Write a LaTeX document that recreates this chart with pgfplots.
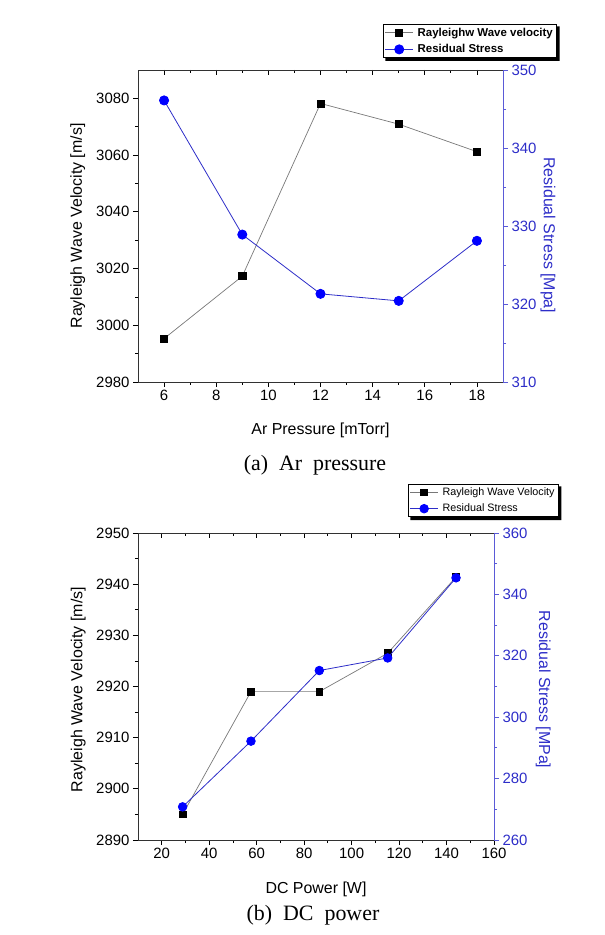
\documentclass[border=0pt]{standalone}
\usepackage{pgfplots}
\pgfplotsset{compat=1.18}
\usepackage{fontspec}
\setmainfont{Liberation Sans}
\newfontfamily\capfont{Liberation Serif}

\definecolor{rblue}{RGB}{45,45,200}
\definecolor{mblue}{RGB}{0,0,255}
\definecolor{lgray}{RGB}{120,120,120}
\definecolor{axblue}{RGB}{90,90,215}
\definecolor{axblack}{RGB}{50,50,50}

\pgfplotsset{
  base/.style={scale only axis,
    /pgf/number format/assume math mode=true,
    /pgf/number format/set thousands separator={},
    tick label style={font=\fontsize{15}{15}\selectfont},
    label style={font=\fontsize{16}{16}\selectfont},
    major tick length=5bp, minor tick length=3bp,
    axis line style={line width=0.9bp},
    every tick/.style={line width=0.8bp},
    tick align=outside,
  },
  lgimg/.style={legend image code/.code={%
    \draw[mark repeat=2,mark phase=2] plot coordinates {(0bp,0bp) (14bp,0bp) (28bp,0bp)};}},
  sq/.style={lgray, line width=0.7bp, mark=square*, mark size=3.6bp, mark options={black, solid}},
  ci/.style={rblue, line width=0.8bp, mark=*, mark size=4.6bp, mark options={mblue, solid}},
}

\begin{document}
\begin{tikzpicture}
\useasboundingbox (0,0) rectangle (605bp,935bp);

% ---------------- (a) ----------------
\begin{axis}[base, at={(138bp,553bp)}, anchor=south west, width=365bp, height=312bp,
  xmin=5, xmax=19, ymin=2980, ymax=3090,
  xtick={6,8,...,18}, minor x tick num=1,
  ytick={2980,3000,...,3080}, minor y tick num=1,
  xtick pos=bottom, ytick pos=left,
  axis line style={axblack},
  xlabel={Ar Pressure [mTorr]}, ylabel={Rayleigh Wave Velocity [m/s]},
  xlabel style={at={(axis description cs:0.5,-0.154)}, anchor=center},
  ylabel style={at={(axis description cs:-0.165,0.5)}, anchor=center},
]
\addplot[sq] coordinates {(6,2995.3) (9,3017.3) (12,3078.2) (15,3070.9) (18,3061.2)};
\end{axis}
\begin{axis}[base, at={(138bp,553bp)}, anchor=south west, width=365bp, height=312bp,
  xmin=5, xmax=19, ymin=0, ymax=1,
  axis x line*=top, axis y line=none, tick align=inside,
  xtick={6,8,...,18}, minor x tick num=1, xticklabels={},
  axis line style={axblack},
]
\end{axis}
\begin{axis}[base, at={(138bp,553bp)}, anchor=south west, width=365bp, height=312bp,
  xmin=5, xmax=19, ymin=310, ymax=350,
  axis y line*=right, axis x line=none,
  ytick={310,320,...,350}, minor y tick num=1,
  y axis line style={axblue}, ytick style={axblue},
  yticklabel style={rblue},
  ylabel={Residual Stress [Mpa]},
  ylabel style={rblue, at={(axis description cs:1.123,0.47)}, anchor=center, rotate=180},
  legend style={at={(0.671,1.148)}, anchor=north west, name=legA,
    font=\bfseries\fontsize{11.5}{13}\selectfont, draw=black, line width=0.8bp,
    inner sep=1.5bp, row sep=3bp, cells={anchor=west}, fill=white,
    /tikz/every odd column/.append style={column sep=2bp}},
  lgimg,
]
\addlegendimage{sq}
\addplot[ci] coordinates {(6,346.1) (9,328.9) (12,321.3) (15,320.4) (18,328.1)};
\legend{Rayleighw Wave velocity, Residual Stress}
\end{axis}
\fill[black] ([yshift=-2.5bp]legA.north east) -- ([xshift=2.8bp,yshift=-2.5bp]legA.north east)
  -- ([xshift=2.8bp,yshift=-2.8bp]legA.south east) -- ([xshift=2.5bp,yshift=-2.8bp]legA.south west)
  -- ([xshift=2.5bp]legA.south west) -- (legA.south east) -- cycle;

% ---------------- (b) ----------------
\begin{axis}[base, at={(138bp,95bp)}, anchor=south west, width=356bp, height=307bp,
  xmin=10, xmax=160, ymin=2890, ymax=2950,
  xtick={20,40,...,160}, minor x tick num=1,
  ytick={2890,2900,...,2950}, minor y tick num=1,
  xtick pos=bottom, ytick pos=left,
  axis line style={axblack},
  xlabel={DC Power [W]}, ylabel={Rayleigh Wave Velocity [m/s]},
  xlabel style={at={(axis description cs:0.5,-0.16)}, anchor=center},
  ylabel style={at={(axis description cs:-0.168,0.49)}, anchor=center},
]
\addplot[sq, mark size=3.4bp] coordinates {(28.8,2895.0) (57.6,2919.0) (86.4,2919.0) (115.2,2926.5) (144,2941.4)};
\end{axis}
\begin{axis}[base, at={(138bp,95bp)}, anchor=south west, width=356bp, height=307bp,
  xmin=10, xmax=160, ymin=0, ymax=1,
  axis x line*=top, axis y line=none, tick align=inside,
  xtick={20,40,...,160}, minor x tick num=1, xticklabels={},
  axis line style={axblack},
]
\end{axis}
\begin{axis}[base, at={(138bp,95bp)}, anchor=south west, width=356bp, height=307bp,
  xmin=10, xmax=160, ymin=260, ymax=360,
  axis y line*=right, axis x line=none,
  ytick={260,280,...,360}, minor y tick num=1,
  y axis line style={axblue}, ytick style={axblue},
  yticklabel style={rblue},
  ylabel={Residual Stress [MPa]},
  ylabel style={rblue, at={(axis description cs:1.138,0.49)}, anchor=center, rotate=180},
  legend style={at={(0.758,1.16)}, anchor=north west, name=legB,
    font=\fontsize{10.8}{12.5}\selectfont, draw=black, line width=0.8bp,
    inner sep=1.5bp, row sep=3bp, cells={anchor=west}, fill=white,
    /tikz/every odd column/.append style={column sep=2bp}},
  lgimg,
]
\addlegendimage{sq, mark size=3.4bp}
\addplot[ci, mark size=4.3bp] coordinates {(28.8,270.8) (57.6,292.2) (86.4,315.2) (115.2,319.3) (144,345.4)};
\legend{Rayleigh Wave Velocity, Residual Stress}
\end{axis}
\fill[black] ([yshift=-2.5bp]legB.north east) -- ([xshift=2.8bp,yshift=-2.5bp]legB.north east)
  -- ([xshift=2.8bp,yshift=-2.8bp]legB.south east) -- ([xshift=2.5bp,yshift=-2.8bp]legB.south west)
  -- ([xshift=2.5bp]legB.south west) -- (legB.south east) -- cycle;

\node[font=\capfont\fontsize{22}{22}\selectfont] at (315bp,470bp) {(a)~~Ar~~pressure};
\node[font=\capfont\fontsize{22}{22}\selectfont] at (313bp,20bp) {(b)~~DC~~power};
\end{tikzpicture}
\end{document}
